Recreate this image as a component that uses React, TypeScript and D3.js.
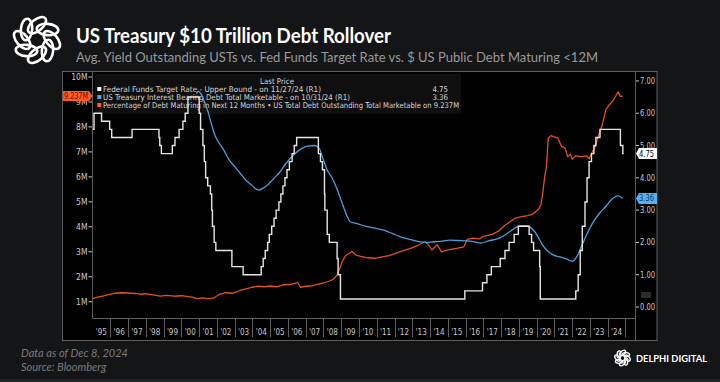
import React from 'react';
import * as d3 from 'd3';

// ---------- DATA ----------
// Fed Funds Target Rate (upper bound): change dates and new rate
const fedChangeDates = [
  '1995-01-01', '1995-02-01', '1995-07-06', '1995-12-19', '1996-01-31', '1997-03-25',
  '1998-09-29', '1998-10-15', '1998-11-17', '1999-06-30', '1999-08-24', '1999-11-16',
  '2000-02-02', '2000-03-21', '2000-05-16', '2001-01-03', '2001-01-31', '2001-03-20',
  '2001-04-18', '2001-05-15', '2001-06-27', '2001-08-21', '2001-09-17', '2001-10-02',
  '2001-11-06', '2001-12-11', '2002-11-06', '2003-06-25', '2004-06-30', '2004-08-10',
  '2004-09-21', '2004-11-10', '2004-12-14', '2005-02-02', '2005-03-22', '2005-05-03',
  '2005-06-30', '2005-08-09', '2005-09-20', '2005-11-01', '2005-12-13', '2006-01-31',
  '2006-03-28', '2006-05-10', '2006-06-29', '2007-09-18', '2007-10-31', '2007-12-11',
  '2008-01-22', '2008-01-30', '2008-03-18', '2008-04-30', '2008-10-08', '2008-10-29',
  '2008-12-16', '2015-12-16', '2016-12-14', '2017-03-15', '2017-06-14', '2017-12-13',
  '2018-03-21', '2018-06-13', '2018-09-26', '2018-12-19', '2019-07-31', '2019-09-18',
  '2019-10-30', '2020-03-03', '2020-03-15', '2022-03-16', '2022-05-04', '2022-06-15',
  '2022-07-27', '2022-09-21', '2022-11-02', '2022-12-14', '2023-02-01', '2023-03-22',
  '2023-05-03', '2023-07-26', '2024-09-18', '2024-11-07', '2024-11-27',
];
const fedRates = [
  5.5, 6.0, 5.75, 5.5, 5.25, 5.5,
  5.25, 5.0, 4.75, 5.0, 5.25, 5.5,
  5.75, 6.0, 6.5, 6.0, 5.5, 5.0,
  4.5, 4.0, 3.75, 3.5, 3.0, 2.5,
  2.0, 1.75, 1.25, 1.0, 1.25, 1.5,
  1.75, 2.0, 2.25, 2.5, 2.75, 3.0,
  3.25, 3.5, 3.75, 4.0, 4.25, 4.5,
  4.75, 5.0, 5.25, 4.75, 4.5, 4.25,
  3.5, 3.0, 2.25, 2.0, 1.5, 1.0,
  0.25, 0.5, 0.75, 1.0, 1.25, 1.5,
  1.75, 2.0, 2.25, 2.5, 2.25, 2.0,
  1.75, 1.25, 0.25, 0.5, 1.0, 1.75,
  2.5, 3.25, 4.0, 4.5, 4.75, 5.0,
  5.25, 5.5, 5.0, 4.75, 4.75,
];

// US Treasury interest bearing debt, total marketable: average yield (%)
const yieldYears = [
  2000.85, 2000.95, 2001.1, 2001.3, 2001.5, 2001.7, 2001.9, 2002.1, 2002.4, 2002.7,
  2003.0, 2003.3, 2003.6, 2003.9, 2004.1, 2004.35, 2004.6, 2004.9, 2005.2, 2005.5,
  2005.9, 2006.3, 2006.7, 2007.1, 2007.5, 2007.75, 2008.0, 2008.2, 2008.5, 2008.8,
  2009.0, 2009.3, 2009.5, 2009.9, 2010.4, 2010.9, 2011.4, 2011.9, 2012.3, 2012.8,
  2013.3, 2013.8, 2014.2, 2014.7, 2015.1, 2015.6, 2016.1, 2016.5, 2016.85, 2017.3,
  2017.9, 2018.4, 2018.9, 2019.3, 2019.6, 2019.85, 2020.1, 2020.3, 2020.6, 2020.9,
  2021.3, 2021.7, 2022.0, 2022.25, 2022.5, 2022.8, 2023.1, 2023.5, 2023.9, 2024.2,
  2024.6, 2024.83,
];
const yieldValues = [
  6.6, 6.68, 6.6, 6.35, 6.05, 5.65, 5.3, 5.1, 4.85, 4.55,
  4.35, 4.15, 3.95, 3.8, 3.7, 3.62, 3.68, 3.8, 3.98, 4.15,
  4.45, 4.7, 4.88, 4.98, 5.0, 4.92, 4.55, 4.25, 3.98, 3.6,
  3.3, 2.85, 2.64, 2.58, 2.5, 2.44, 2.38, 2.27, 2.18, 2.1,
  2.03, 2.0, 2.02, 2.04, 2.07, 2.06, 2.05, 2.02, 1.98, 2.05,
  2.13, 2.3, 2.48, 2.52, 2.48, 2.36, 2.15, 1.95, 1.74, 1.62,
  1.55, 1.48, 1.42, 1.55, 1.85, 2.22, 2.55, 2.88, 3.12, 3.32,
  3.44, 3.36,
];

// US public debt maturing in next 12 months ($ trillions, shown as "M")
const maturingYears = [
  1995.0, 1995.3, 1995.7, 1996.0, 1996.3, 1996.6, 1997.0, 1997.4, 1997.7, 1998.0,
  1998.4, 1998.8, 1999.2, 1999.6, 2000.0, 2000.3, 2000.6, 2000.9, 2001.2, 2001.5,
  2001.8, 2002.1, 2002.5, 2002.9, 2003.3, 2003.7, 2004.0, 2004.3, 2004.7, 2005.0,
  2005.4, 2005.8, 2006.2, 2006.55, 2006.7, 2007.0, 2007.4, 2007.7, 2008.0, 2008.3,
  2008.55, 2008.75, 2008.9, 2009.05, 2009.25, 2009.5, 2009.6, 2009.8, 2010.1, 2010.5,
  2010.9, 2011.3, 2011.7, 2012.1, 2012.5, 2012.9, 2013.3, 2013.7, 2013.9, 2014.1,
  2014.4, 2014.65, 2015.0, 2015.5, 2015.9, 2016.1, 2016.4, 2016.8, 2017.0, 2017.5,
  2017.9, 2018.2, 2018.5, 2018.8, 2019.1, 2019.5, 2019.8, 2020.1, 2020.25, 2020.35,
  2020.45, 2020.55, 2020.65, 2020.8, 2021.0, 2021.2, 2021.4, 2021.6, 2021.75, 2021.9,
  2022.0, 2022.2, 2022.5, 2022.8, 2022.95, 2023.1, 2023.3, 2023.5, 2023.7, 2023.9,
  2024.1, 2024.3, 2024.5, 2024.6, 2024.7, 2024.85,
];
const maturingValues = [
  1.12, 1.18, 1.24, 1.3, 1.34, 1.36, 1.35, 1.33, 1.3, 1.32,
  1.27, 1.22, 1.25, 1.22, 1.24, 1.21, 1.18, 1.12, 1.15, 1.12,
  1.14, 1.28, 1.36, 1.34, 1.45, 1.52, 1.58, 1.62, 1.6, 1.63,
  1.6, 1.68, 1.7, 1.76, 1.58, 1.62, 1.64, 1.7, 1.75, 1.82,
  1.9, 2.05, 2.3, 2.6, 2.85, 2.95, 3.02, 2.88, 2.82, 2.76,
  2.74, 2.8, 2.85, 2.95, 3.05, 3.14, 3.25, 3.4, 3.3, 3.07,
  3.28, 3.0, 3.08, 3.14, 3.2, 3.5, 3.55, 3.52, 3.62, 3.7,
  3.85, 4.05, 4.2, 4.35, 4.4, 4.45, 4.52, 4.7, 4.9, 5.4,
  6.0, 6.4, 7.55, 7.65, 7.6, 7.55, 7.22, 7.15, 6.8, 6.92,
  6.7, 6.85, 6.8, 6.84, 6.72, 6.95, 7.22, 7.7, 8.1, 8.7,
  8.9, 9.05, 9.3, 9.4, 9.22, 9.237,
];

const yearTicks = d3.range(1995, 2025);
const yearLabels = yearTicks.map((y) => `'${String(y).slice(2)}`);
const leftTicks = [1, 2, 3, 4, 5, 6, 7, 8, 9, 10];
const rightTicks = [0, 1, 2, 3, 4, 5, 6, 7];

const legendRows = [
  { label: 'Federal Funds Target Rate - Upper Bound -  on 11/27/24  (R1)', value: '4.75', color: '#ffffff', len: 218 },
  { label: 'US Treasury Interest Bearing Debt Total Marketable -  on 10/31/24  (R1)', value: '3.36', color: '#4ea6e6', len: 247 },
  { label: 'Percentage of Debt Maturing in Next 12 Months \u2022 US Total Debt Outstanding Total Marketable on 9.237M', value: '', color: '#ff5a1f', len: 356 },
];

// ---------- helpers ----------
function decYear(s: string): number {
  const d = new Date(s + 'T00:00:00Z');
  const y = d.getUTCFullYear();
  const start = Date.UTC(y, 0, 1);
  const end = Date.UTC(y + 1, 0, 1);
  return y + (d.getTime() - start) / (end - start);
}

function Logo({ cx, cy, s, sw }: { cx: number; cy: number; s: number; sw: number }) {
  const loops = d3.range(8);
  return (
    <g transform={`translate(${cx},${cy}) scale(${s})`}>
      {loops.map((k) => (
        <ellipse
          key={k}
          cx={0}
          cy={-11}
          rx={4.2}
          ry={8}
          transform={`rotate(${k * 45}) rotate(50, 0, -11)`}
          fill="none"
          stroke="#ffffff"
          strokeWidth={sw}
        />
      ))}
    </g>
  );
}

export default function App() {
  const W = 720;
  const H = 382;
  const plotL = 92.5;
  const plotR = 635;
  const plotT = 72;
  const plotB = 318;

  const x = d3.scaleLinear().domain([1995, 2025.535]).range([plotL, plotR]);
  const yL = d3.scaleLinear().domain([0.348, 10.2]).range([plotB, plotT]);
  const yR = d3.scaleLinear().domain([-0.34, 7.276]).range([plotB, plotT]);

  const fedPts: [number, number][] = fedChangeDates.map((d, i) => [decYear(d), fedRates[i]]);
  const fedLine = d3
    .line<[number, number]>()
    .x((d) => x(d[0]))
    .y((d) => yR(d[1]))
    .curve(d3.curveStepAfter)(fedPts);

  const yieldLine = d3
    .line<number>()
    .x((_, i) => x(yieldYears[i]))
    .y((d) => yR(d))
    .curve(d3.curveMonotoneX)(yieldValues);

  const matLine = d3
    .line<number>()
    .x((_, i) => x(maturingYears[i]))
    .y((d) => yL(d))(maturingValues);

  const axisFont = "'Liberation Sans Narrow', 'DejaVu Sans Condensed', 'Arial Narrow', sans-serif";
  const labelColor = '#c9c9c9';
  const frameColor = '#5e5e5e';

  const lastFed = fedRates[fedRates.length - 1];
  const lastYield = yieldValues[yieldValues.length - 1];
  const lastMat = maturingValues[maturingValues.length - 1];

  const rightTag = (v: number, text: string, bg: string, fg: string) => {
    const yy = yR(v);
    const pts = [
      [plotR + 1, yy],
      [plotR + 4, yy - 5.5],
      [657, yy - 5.5],
      [657, yy + 5.5],
      [plotR + 4, yy + 5.5],
    ]
      .map((p) => p.join(','))
      .join(' ');
    return (
      <g>
        <polygon points={pts} fill={bg} />
        <text
          x={646.5}
          y={yy + 3}
          textAnchor="middle"
          fontSize={8}
          fontFamily={axisFont}
          fill={fg}
          textLength={15}
          lengthAdjust="spacingAndGlyphs"
        >
          {text}
        </text>
      </g>
    );
  };

  const yMat = yL(lastMat);
  const leftTagPts = [
    [63, yMat - 5],
    [89, yMat - 5],
    [92.5, yMat],
    [89, yMat + 5],
    [63, yMat + 5],
  ]
    .map((p) => p.join(','))
    .join(' ');

  return (
    <svg
      width={W}
      height={H}
      viewBox={`0 0 ${W} ${H}`}
      style={{ position: 'absolute', left: 0, top: 0, display: 'block' }}
    >
      <defs>
        <clipPath id="plotClip">
          <rect x={plotL} y={plotT} width={plotR - plotL} height={plotB - plotT} />
        </clipPath>
      </defs>
      <rect x={0} y={0} width={W} height={H} fill="#141517" />
      <rect x={0} y={379} width={W} height={3} fill="#232427" />

      {/* header */}
      <Logo cx={37} cy={40} s={1.35} sw={1.9} />
      <text
        x={76}
        y={43}
        fontFamily="Lato, 'Open Sans', sans-serif"
        fontWeight={700}
        fontSize={20}
        fill="#ffffff"
        textLength={315}
        lengthAdjust="spacingAndGlyphs"
      >
        US Treasury $10 Trillion Debt Rollover
      </text>
      <text
        x={76}
        y={61.5}
        fontFamily="Lato, 'Open Sans', sans-serif"
        fontSize={14}
        fill="#9a9a9a"
        textLength={522}
        lengthAdjust="spacingAndGlyphs"
      >
        Avg. Yield Outstanding USTs vs. Fed Funds Target Rate vs. $ US Public Debt Maturing &lt;12M
      </text>

      {/* chart panel */}
      <rect x={62.5} y={71.5} width={594.5} height={269} fill="#000000" stroke={frameColor} strokeWidth={1} />
      <line x1={plotL} x2={plotL} y1={plotT} y2={plotB} stroke={frameColor} />
      <line x1={plotL} x2={plotR} y1={plotB + 0.5} y2={plotB + 0.5} stroke={frameColor} />
      <line x1={plotR + 0.5} x2={plotR + 0.5} y1={plotT} y2={340.5} stroke={frameColor} />

      {/* x axis */}
      {yearTicks.map((yr, i) => (
        <g key={yr}>
          <line
            x1={Math.round(x(yr + 1)) + 0.5}
            x2={Math.round(x(yr + 1)) + 0.5}
            y1={plotB}
            y2={337}
            stroke={frameColor}
          />
          <text
            x={x(yr + 0.5)}
            y={335}
            textAnchor="middle"
            fontSize={8}
            fontFamily={axisFont}
            fill={labelColor}
          >
            {yearLabels[i]}
          </text>
        </g>
      ))}

      {/* left axis */}
      {leftTicks.map((t) => (
        <g key={t}>
          <line x1={88.5} x2={92} y1={yL(t)} y2={yL(t)} stroke={labelColor} />
          <text
            x={87.5}
            y={yL(t) + 3}
            textAnchor="end"
            fontSize={8.5}
            fontFamily={axisFont}
            fill={labelColor}
          >
            {`${t}M`}
          </text>
        </g>
      ))}

      {/* right axis */}
      {rightTicks.map((t) => (
        <g key={t}>
          <line x1={plotR + 1} x2={plotR + 4} y1={yR(t)} y2={yR(t)} stroke={labelColor} />
          <text
            x={plotR + 5}
            y={yR(t) + 3}
            fontSize={8}
            fontFamily={axisFont}
            fill={labelColor}
            textLength={15}
            lengthAdjust="spacingAndGlyphs"
          >
            {t.toFixed(2)}
          </text>
        </g>
      ))}
      <rect x={641} y={292} width={10} height={6} fill="#2b2b2b" />

      {/* legend */}
      <rect x={95} y={74} width={366} height={40} fill="#0f0f10" />
      <text x={277} y={83.5} textAnchor="middle" fontSize={7.8} fontFamily={axisFont} fill="#d6d6d6">
        Last Price
      </text>
      {legendRows.map((r, i) => {
        const cy = 89 + i * 8;
        return (
          <g key={i}>
            <rect x={97.3} y={cy - 2} width={4} height={4} fill={r.color} />
            <text
              x={103}
              y={cy + 2.8}
              fontSize={7.8}
              fontFamily={axisFont}
              fill="#d6d6d6"
              textLength={r.len}
              lengthAdjust="spacingAndGlyphs"
            >
              {r.label}
            </text>
            {r.value && (
              <text x={448} y={cy + 2.8} textAnchor="end" fontSize={7.8} fontFamily={axisFont} fill="#d6d6d6">
                {r.value}
              </text>
            )}
          </g>
        );
      })}

      {/* series */}
      <g clipPath="url(#plotClip)">
        <path d={matLine || ''} fill="none" stroke="#e5501b" strokeWidth={1.3} strokeLinejoin="round" />
        <path d={yieldLine || ''} fill="none" stroke="#4a9fd8" strokeWidth={1.3} />
        <path d={fedLine || ''} fill="none" stroke="#e6e6e6" strokeWidth={1.4} />
      </g>

      {/* last value tags */}
      {rightTag(lastFed, lastFed.toFixed(2), '#ffffff', '#000000')}
      {rightTag(lastYield, lastYield.toFixed(2), '#56b0ee', '#0c3b6e')}
      <polygon points={leftTagPts} fill="#ff5a1f" />
      <text
        x={76}
        y={yMat + 3}
        textAnchor="middle"
        fontSize={8}
        fontFamily={axisFont}
        fill="#6a1200"
        textLength={24}
        lengthAdjust="spacingAndGlyphs"
      >
        {`${lastMat.toFixed(3)}M`}
      </text>

      {/* footer */}
      <text x={21} y={357} fontFamily="Lato, 'Open Sans', sans-serif" fontStyle="italic" fontSize={11} fill="#7b7b7b">
        Data as of Dec 8, 2024
      </text>
      <text x={21} y={371} fontFamily="Lato, 'Open Sans', sans-serif" fontStyle="italic" fontSize={11} fill="#7b7b7b">
        Source: Bloomberg
      </text>
      <Logo cx={622.5} cy={358} s={0.45} sw={3} />
      <text
        x={636}
        y={361.5}
        fontFamily="Lato, 'Open Sans', sans-serif"
        fontWeight={700}
        fontSize={9.5}
        fill="#ffffff"
        textLength={71}
        lengthAdjust="spacingAndGlyphs"
      >
        DELPHI DIGITAL
      </text>
    </svg>
  );
}
